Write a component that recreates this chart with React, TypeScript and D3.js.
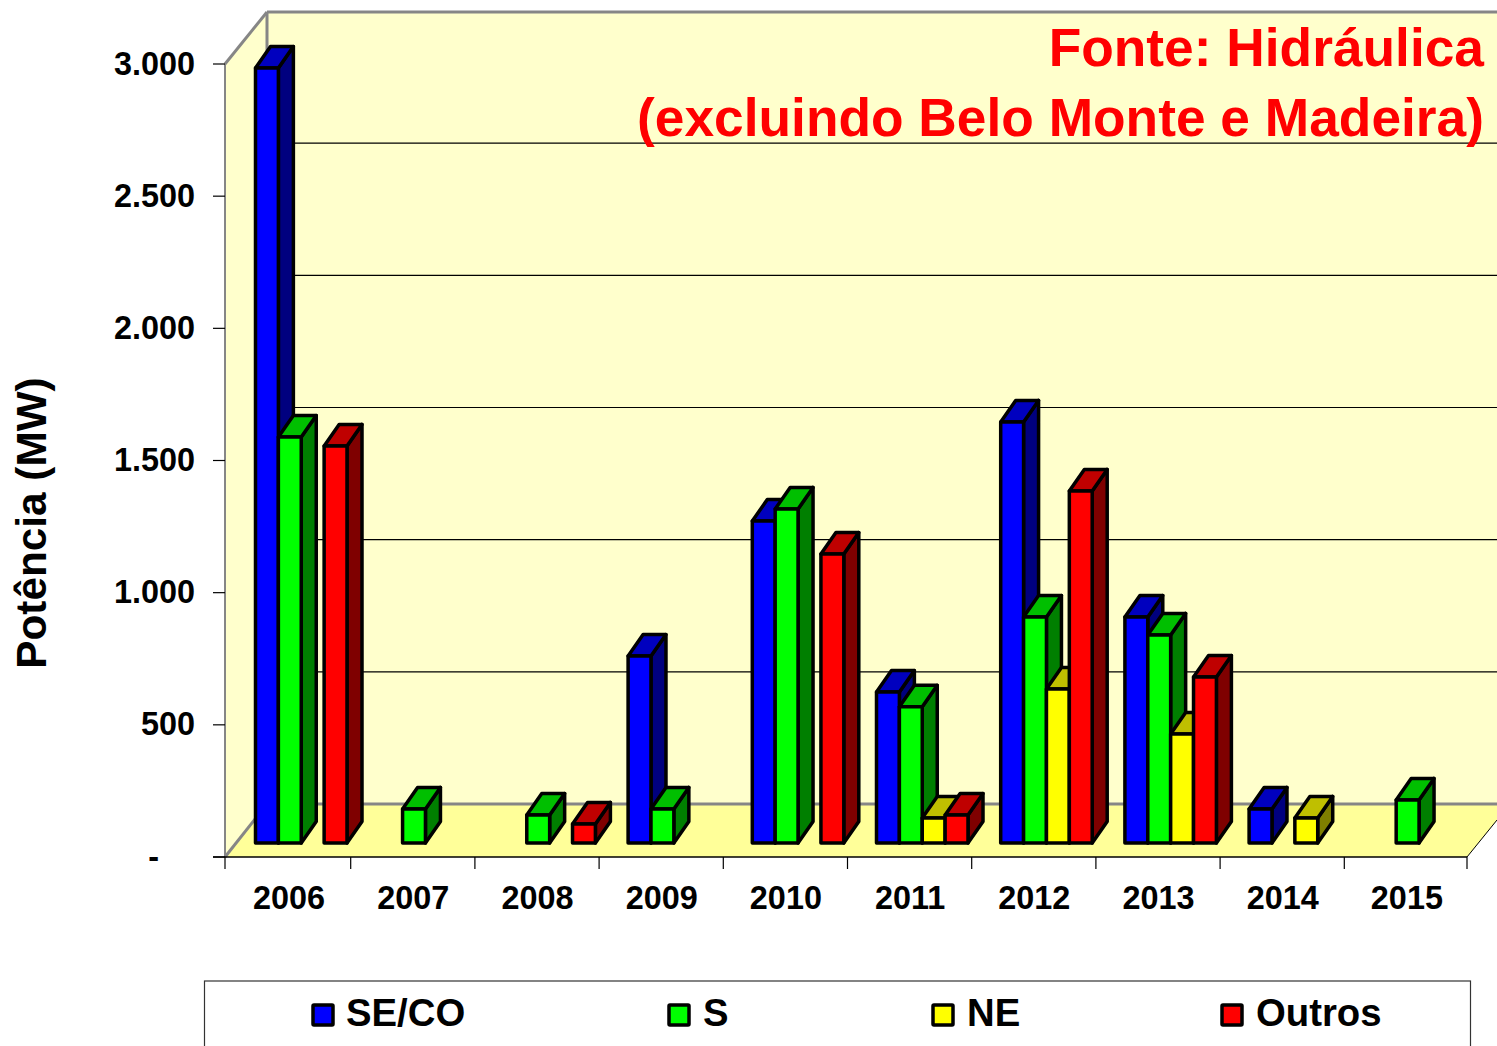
import React from "react";
import * as d3 from "d3";

const years = ["2006", "2007", "2008", "2009", "2010", "2011", "2012", "2013", "2014", "2015"];
const seriesNames = ["SE/CO", "S", "NE", "Outros"];
const seCo = [2932, 0, 0, 707, 1218, 571, 1593, 855, 129, 0];
const sul = [1536, 129, 106, 129, 1264, 515, 855, 787, 0, 163];
const ne = [0, 0, 0, 0, 0, 95, 583, 412, 95, 0];
const outros = [1502, 0, 72, 0, 1093, 106, 1332, 628, 0, 0];
const seriesValues = [seCo, sul, ne, outros];
const frontColors = ["#0000ff", "#00ff00", "#ffff00", "#ff0000"];
const topColors = ["#0000bf", "#00bf00", "#bfbf00", "#bf0000"];
const sideColors = ["#00007f", "#007f00", "#7f7f00", "#7f0000"];
const yTicks = [0, 500, 1000, 1500, 2000, 2500, 3000];
const yTickLabels = ["-", "500", "1.000", "1.500", "2.000", "2.500", "3.000"];
const legendSwatchX = [323, 679, 943, 1232];
const legendTextX = [346, 703, 967, 1256];

const W = 1497;
const H = 1046;
const font = "'Liberation Sans', Arial, sans-serif";
const left = 225;
const right = 1467;
const depthX = 42;
const depthY = 53;
const barDepthX = 15;
const barDepthY = 21.5;

const x = d3.scaleBand<string>().domain(years).range([left, right]);
const inner = d3.scaleBand<string>().domain(seriesNames).range([30.5, 122]);
const y = d3.scaleLinear().domain([0, 3000]).range([857, 64]);
const yBar = d3.scaleLinear().domain([0, 3000]).range([843, 50]);

const poly = (pts: number[][]) => (d3.line()(pts as [number, number][]) as string) + "Z";

export default function App() {
  const backX = left + depthX;
  const floorBack = y(0) - depthY;
  const topBack = y(3000) - depthY + 1;
  return (
    <svg
      width={W}
      height={H}
      viewBox={`0 0 ${W} ${H}`}
      style={{ position: "absolute", left: 0, top: 0, background: "#fff" }}
      fontFamily={font}
      fontWeight="bold"
    >
      {/* walls and floor */}
      <rect x={backX} y={topBack} width={W - backX} height={floorBack - topBack} fill="#ffffcc" />
      <path d={poly([[left, y(3000)], [backX, topBack], [backX, floorBack], [left, y(0)]])} fill="#ffffcc" />
      <path d={poly([[left, y(0)], [backX, floorBack], [W, floorBack], [W, 820], [right, y(0)]])} fill="#ffff99" />

      {/* back wall gridlines */}
      {yTicks.slice(1, -1).map((t) => (
        <line key={t} x1={backX} x2={W} y1={y(t) - depthY} y2={y(t) - depthY} stroke="#000" strokeWidth={1.2} />
      ))}

      {/* wall edges */}
      <g stroke="#868686" fill="none">
        <line x1={backX} x2={W} y1={topBack} y2={topBack} strokeWidth={3} />
        <line x1={backX} x2={backX} y1={topBack} y2={floorBack} strokeWidth={3} />
        <line x1={left} x2={backX} y1={y(3000)} y2={topBack} strokeWidth={3} />
        <line x1={left} x2={backX} y1={y(0)} y2={floorBack} strokeWidth={3} />
        <line x1={backX} x2={W} y1={floorBack} y2={floorBack} strokeWidth={3} />
        <line x1={left} x2={left} y1={y(3000)} y2={y(0)} strokeWidth={2} />
      </g>
      <line x1={right} x2={W} y1={y(0)} y2={820} stroke="#000" strokeWidth={1} />

      {/* axes */}
      <line x1={left - 12} x2={right} y1={y(0)} y2={y(0)} stroke="#000" strokeWidth={1.5} />
      {yTicks.map((t) => (
        <line key={t} x1={left - 12} x2={left} y1={y(t)} y2={y(t)} stroke="#000" strokeWidth={1.2} />
      ))}
      {[...years.map((d) => x(d) as number), right].map((px, i) => (
        <line
          key={i}
          x1={px + (i > 0 && i < years.length ? 1.5 : 0)}
          x2={px + (i > 0 && i < years.length ? 1.5 : 0)}
          y1={y(0)}
          y2={y(0) + 12}
          stroke="#000"
          strokeWidth={1.2}
        />
      ))}

      {/* bars */}
      {years.map((yr, i) => (
        <g key={yr}>
          {seriesNames.map((name, s) => {
            const v = seriesValues[s][i];
            if (!v) return null;
            const x0 = (x(yr) as number) + (inner(name) as number);
            const x1 = x0 + inner.bandwidth();
            const y0 = yBar(0);
            const y1 = yBar(v);
            return (
              <g key={name} stroke="#000" strokeWidth={3.5} strokeLinejoin="round">
                <path
                  d={poly([[x1, y1], [x1 + barDepthX, y1 - barDepthY], [x1 + barDepthX, y0 - barDepthY], [x1, y0]])}
                  fill={sideColors[s]}
                />
                <path
                  d={poly([[x0, y1], [x0 + barDepthX, y1 - barDepthY], [x1 + barDepthX, y1 - barDepthY], [x1, y1]])}
                  fill={topColors[s]}
                />
                <rect x={x0} y={y1} width={x1 - x0} height={y0 - y1} fill={frontColors[s]} />
              </g>
            );
          })}
        </g>
      ))}

      {/* tick labels */}
      {yTicks.map((t, i) => (
        <text
          key={t}
          x={t === 0 ? 159 : 195}
          y={y(t) + 10.5}
          textAnchor="end"
          fontSize={32.4}
          fill="#000"
        >
          {yTickLabels[i]}
        </text>
      ))}
      {years.map((yr) => (
        <text
          key={yr}
          x={(x(yr) as number) + x.bandwidth() / 2 + 2}
          y={909}
          textAnchor="middle"
          fontSize={32.4}
          fill="#000"
        >
          {yr}
        </text>
      ))}
      <text
        transform="translate(46,523) rotate(-90)"
        textAnchor="middle"
        fontSize={42.3}
        fill="#000"
      >
        Potência (MW)
      </text>

      {/* heading */}
      <text x={1484} y={66} textAnchor="end" fontSize={53.3} fill="#ff0000">
        Fonte: Hidráulica
      </text>
      <text x={1484} y={136} textAnchor="end" fontSize={53.3} fill="#ff0000">
        (excluindo Belo Monte e Madeira)
      </text>

      {/* legend */}
      <rect x={204.5} y={981} width={1266} height={80} fill="#fff" stroke="#333" strokeWidth={1.2} />
      {seriesNames.map((name, s) => (
        <g key={name}>
          <rect
            x={legendSwatchX[s] - 10}
            y={1005}
            width={20}
            height={20}
            rx={1}
            fill={frontColors[s]}
            stroke="#000"
            strokeWidth={3.5}
          />
          <text x={legendTextX[s]} y={1026} fontSize={38.3} fill="#000">
            {name}
          </text>
        </g>
      ))}
    </svg>
  );
}
